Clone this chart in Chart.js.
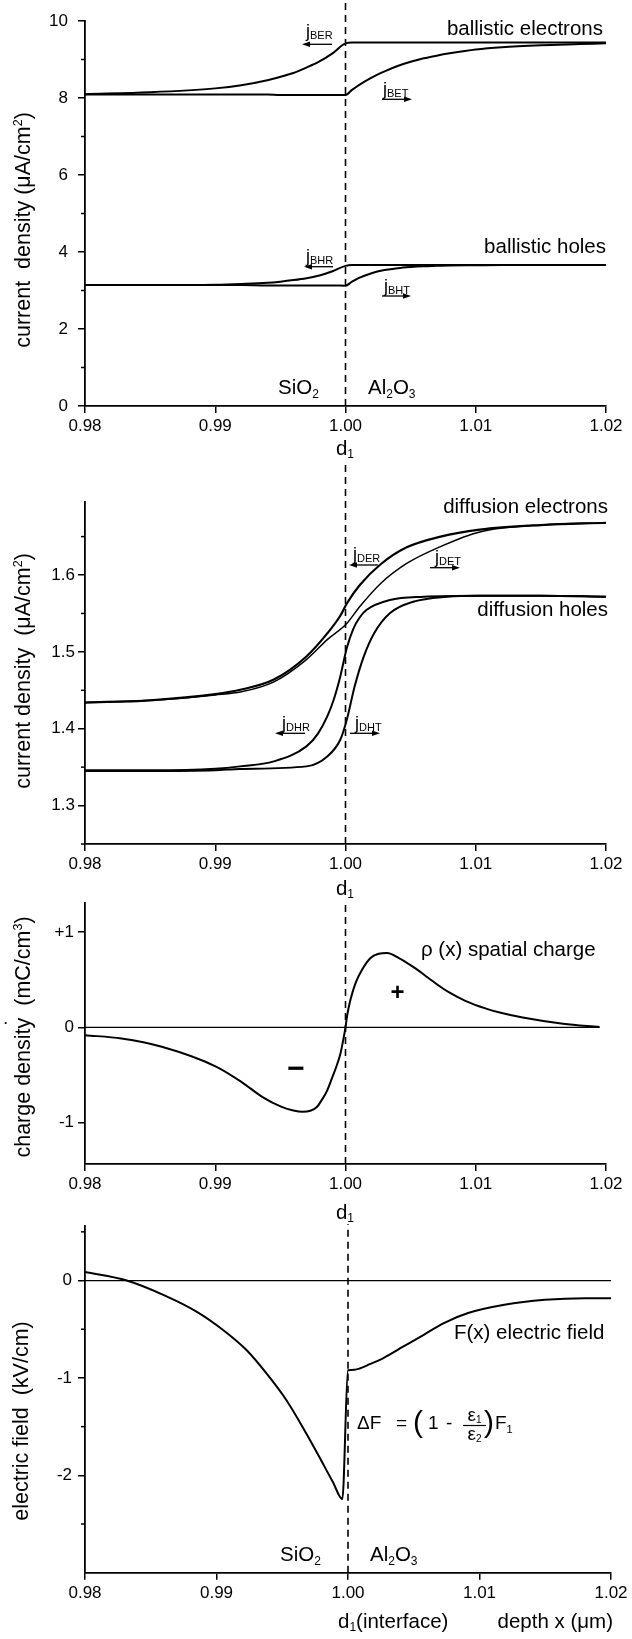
<!DOCTYPE html>
<html>
<head>
<meta charset="utf-8">
<script src="https://cdn.jsdelivr.net/npm/chart.js@4.4.1/dist/chart.umd.min.js"></script>
<style>
  html, body { margin: 0; padding: 0; background: #fff; }
  #page { position: relative; width: 632px; height: 1639px; overflow: hidden; background: #fff; }
  canvas { position: absolute; left: 0; }
</style>
</head>
<body>
<div id="page">
  <canvas id="ballistic" width="632" height="462" style="top:0px"></canvas>
  <canvas id="diffusion" width="632" height="440" style="top:462px"></canvas>
  <canvas id="charge" width="632" height="324" style="top:900px"></canvas>
  <canvas id="field" width="632" height="415" style="top:1224px"></canvas>
</div>
<script>
// depth axis, shared by all panels (µm)
const xTicks = [0.98, 0.99, 1.00, 1.01, 1.02];
const xTickLabels = ['0.98', '0.99', '1.00', '1.01', '1.02'];
const interfaceX = 1.0;

// panel 1 - ballistic currents (µA/cm²)
const ballX = [0.98, 0.985, 0.99, 0.992, 0.994, 0.995, 0.996, 0.997, 0.998, 0.999, 1.0,
  1.0005, 1.001, 1.002, 1.003, 1.004, 1.005, 1.006, 1.007, 1.008, 1.01, 1.012, 1.015, 1.018, 1.02];
const jBER = [8.10, 8.15, 8.25, 8.33, 8.46, 8.55, 8.65, 8.79, 8.95, 9.16, 9.42,
  9.44, 9.44, 9.44, 9.44, 9.44, 9.44, 9.44, 9.44, 9.44, 9.44, 9.44, 9.44, 9.44, 9.44];
const jBET = [8.09, 8.09, 8.09, 8.09, 8.09, 8.08, 8.08, 8.08, 8.08, 8.08, 8.08,
  8.21, 8.33, 8.53, 8.69, 8.83, 8.94, 9.03, 9.10, 9.16, 9.26, 9.32, 9.37, 9.40, 9.42];
const jBHR = [3.14, 3.14, 3.15, 3.17, 3.20, 3.23, 3.27, 3.32, 3.39, 3.50, 3.64,
  3.66, 3.66, 3.66, 3.66, 3.66, 3.66, 3.66, 3.66, 3.66, 3.66, 3.66, 3.66, 3.66, 3.66];
const jBHT = [3.14, 3.14, 3.14, 3.14, 3.13, 3.13, 3.13, 3.13, 3.13, 3.13, 3.125,
  3.23, 3.32, 3.45, 3.53, 3.58, 3.61, 3.63, 3.64, 3.65, 3.655, 3.66, 3.66, 3.66, 3.66];
const p1YTicks = [0, 2, 4, 6, 8, 10];
const p1YMinor = [1, 3, 5, 7, 9];

// panel 2 - diffusion currents (µA/cm²)
const derX = [0.98, 0.985, 0.99, 0.992, 0.9945, 0.997, 0.9986, 0.9996, 1.0001, 1.0011, 1.0027, 1.0047, 1.0073, 1.0103, 1.015, 1.02];
const jDER = [1.434, 1.437, 1.445, 1.451, 1.464, 1.494, 1.524, 1.547, 1.563, 1.587, 1.614, 1.636, 1.650, 1.659, 1.665, 1.668];
const detX = [0.98, 0.985, 0.99, 0.992, 0.9945, 0.997, 0.9986, 1.0001, 1.0011, 1.0027, 1.0047, 1.0073, 1.0103, 1.015, 1.02];
const jDET = [1.434, 1.437, 1.444, 1.448, 1.461, 1.490, 1.516, 1.537, 1.559, 1.589, 1.615, 1.637, 1.656, 1.665, 1.668];
const dhrX = [0.98, 0.985, 0.99, 0.9919, 0.9945, 0.997, 0.9979, 0.9986, 0.9991, 0.9996, 1.0001, 1.0006, 1.0011, 1.0016, 1.0034, 1.006, 1.0103, 1.015, 1.02];
const jDHR = [1.346, 1.346, 1.348, 1.351, 1.3575, 1.377, 1.394, 1.416, 1.438, 1.468, 1.505, 1.530, 1.545, 1.5545, 1.5675, 1.5718, 1.5731, 1.5731, 1.5718];
const dhtX = [0.98, 0.985, 0.99, 0.9919, 0.997, 0.9986, 0.9996, 1.0001, 1.0007, 1.0014, 1.0022, 1.0034, 1.0052, 1.0078, 1.0103, 1.015, 1.02];
const jDHT = [1.345, 1.345, 1.346, 1.3477, 1.351, 1.364, 1.3857, 1.4117, 1.455, 1.4939, 1.5243, 1.5503, 1.5653, 1.5718, 1.5731, 1.5731, 1.5718];
const p2YTicks = [1.3, 1.4, 1.5, 1.6];
const p2YMinor = [1.25, 1.35, 1.45, 1.55, 1.65];

// panel 3 - spatial charge density (mC/cm³)
const rhoX = [0.98, 0.9828, 0.9859, 0.9901, 0.992, 0.9936, 0.9951, 0.996, 0.9967, 0.9973, 0.9978, 0.99821, 0.9986,
  0.99897, 0.9993, 0.99962, 0.99987, 1.0, 1.00012, 1.00038, 1.00077, 1.00127, 1.00192, 1.00255, 1.00319,
  1.0041, 1.00537, 1.00665, 1.00793, 1.0092, 1.01074, 1.01176, 1.0136, 1.0167, 1.0195];
const rho = [-0.081, -0.116, -0.203, -0.413, -0.571, -0.728, -0.834, -0.872, -0.886, -0.875, -0.835, -0.755, -0.66,
  -0.53, -0.41, -0.27, -0.10, 0.0, 0.12, 0.29, 0.466, 0.606, 0.729, 0.774, 0.781,
  0.729, 0.62, 0.49, 0.37, 0.28, 0.20, 0.16, 0.105, 0.04, 0.005];
const p3YTicks = [-1, 0, 1];
const p3YLabels = ['-1', '0', '+1'];

// panel 4 - electric field (kV/cm)
const fieldX = [0.98, 0.98317, 0.98595, 0.98848, 0.9905, 0.99228, 0.9938, 0.99532, 0.99684, 0.9981, 0.99886, 0.99957,
  1.0, 1.0005, 1.00089, 1.00165, 1.00269, 1.00422, 1.00576, 1.00729, 1.00913, 1.01189, 1.01497, 1.01804, 1.02];
const field = [0.088, 0.0, -0.147, -0.319, -0.508, -0.714, -0.954, -1.229, -1.573, -1.882, -2.072, -2.243,
  -0.921, -0.915, -0.903, -0.859, -0.796, -0.677, -0.557, -0.437, -0.334, -0.249, -0.198, -0.181, -0.181];
const p4YTicks = [-2, -1, 0];
const p4YMinor = [-2.5, -1.5, -0.5, 0.5];

const FONT = "'Liberation Sans', Arial, sans-serif";
Chart.defaults.font.family = FONT;
Chart.defaults.color = '#000';

function curve(xs, ys, width) {
  return {
    data: xs.map((x, i) => ({ x: x, y: ys[i] })),
    borderColor: '#000', borderWidth: width || 2, pointRadius: 0,
    cubicInterpolationMode: 'monotone', fill: false
  };
}
function vline(x, y0, y1) {
  return { data: [{ x: x, y: y0 }, { x: x, y: y1 }], borderColor: '#000', borderWidth: 1.6,
    borderDash: [7, 5], pointRadius: 0, clip: false };
}
function hline(x0, x1, y) {
  return { data: [{ x: x0, y: y }, { x: x1, y: y }], borderColor: '#000', borderWidth: 1.3, pointRadius: 0 };
}

// text made of pieces (for sub/superscripts): [text, size, dy, weight]
function drawParts(ctx, x, y, parts, align) {
  let w = 0;
  parts.forEach(p => { ctx.font = (p[3] || 'normal') + ' ' + p[1] + 'px ' + FONT; w += ctx.measureText(p[0]).width; });
  let cx = align === 'right' ? x - w : align === 'center' ? x - w / 2 : x;
  parts.forEach(p => {
    ctx.font = (p[3] || 'normal') + ' ' + p[1] + 'px ' + FONT;
    ctx.fillText(p[0], cx, y + (p[2] || 0));
    cx += ctx.measureText(p[0]).width;
  });
}

function drawArrow(ctx, a) {
  const dir = Math.sign(a[1] - a[0]);
  ctx.lineWidth = 1.3;
  ctx.beginPath();
  ctx.moveTo(a[0], a[2]);
  ctx.lineTo(a[1] - dir * 4, a[2]);
  ctx.stroke();
  ctx.beginPath();
  ctx.moveTo(a[1], a[2]);
  ctx.lineTo(a[1] - dir * 8, a[2] - 2.8);
  ctx.lineTo(a[1] - dir * 8, a[2] + 2.8);
  ctx.closePath();
  ctx.fill();
}

function figurePlugin(p) {
  return {
    id: 'figure',
    afterDraw(chart) {
      const ctx = chart.ctx;
      ctx.save();
      ctx.translate(0, -p.offset);
      ctx.fillStyle = '#000';
      ctx.strokeStyle = '#000';
      ctx.textAlign = 'left';
      ctx.textBaseline = 'alphabetic';
      const ys = chart.scales.y;
      ctx.lineWidth = 1.5;
      (p.minor || []).forEach(v => {
        const py = ys.getPixelForValue(v) + p.offset;
        ctx.beginPath();
        ctx.moveTo(ys.right, py);
        ctx.lineTo(ys.right - 4, py);
        ctx.stroke();
      });
      p.texts.forEach(t => {
        if (t.rot) {
          ctx.save();
          ctx.translate(t.x, t.y);
          ctx.rotate(-Math.PI / 2);
          drawParts(ctx, 0, 0, t.parts, 'center');
          ctx.restore();
        } else {
          drawParts(ctx, t.x, t.y, t.parts, t.a || 'left');
        }
      });
      (p.arrows || []).forEach(a => drawArrow(ctx, a));
      (p.bars || []).forEach(b => {
        ctx.lineWidth = 1.2;
        ctx.beginPath();
        ctx.moveTo(b[0], b[2]);
        ctx.lineTo(b[1], b[2]);
        ctx.stroke();
      });
      ctx.restore();
    }
  };
}

function makePanel(id, p) {
  const canvas = document.getElementById(id);
  return new Chart(canvas, {
    type: 'line',
    data: { datasets: p.datasets },
    options: {
      responsive: false, animation: false, events: [],
      layout: { autoPadding: false, padding: { left: 0, right: p.right, top: p.top, bottom: 0 } },
      plugins: { legend: { display: false }, tooltip: { enabled: false } },
      scales: {
        x: {
          type: 'linear', min: 0.98, max: 1.02,
          afterBuildTicks: s => { s.ticks = xTicks.map(v => ({ value: v })); },
          afterFit: s => { s.height = p.xHeight; s.paddingLeft = 0; s.paddingRight = 0; },
          ticks: { callback: (v, i) => xTickLabels[i], font: { size: 17 }, color: '#000',
            padding: 3, maxRotation: 0, autoSkip: false },
          grid: { drawOnChartArea: false, tickLength: 7, color: '#000', lineWidth: 1.5 },
          border: { color: '#000', width: 1.8 }
        },
        y: {
          type: 'linear', min: p.yMin, max: p.yMax,
          afterBuildTicks: s => { s.ticks = p.yTicks.map(v => ({ value: v })); },
          afterFit: s => { s.width = 85; s.paddingTop = 0; s.paddingBottom = 0; },
          ticks: { callback: (v, i) => p.yLabels[i], font: { size: 17 }, color: '#000',
            padding: p.yPad, autoSkip: false },
          grid: { drawOnChartArea: false, tickLength: 7, color: '#000', lineWidth: 1.5 },
          border: { color: '#000', width: 1.8 }
        }
      }
    },
    plugins: [figurePlugin(p)]
  });
}

const A = 20.5, T = 21.5, J = 18, S = 11;

makePanel('ballistic', {
  offset: 0, top: 21, right: 26, xHeight: 56, yMin: 0, yMax: 10, yPad: 10,
  yTicks: p1YTicks, yLabels: p1YTicks.map(String), minor: p1YMinor,
  datasets: [curve(ballX, jBER), curve(ballX, jBET), curve(ballX, jBHR), curve(ballX, jBHT),
    vline(interfaceX, 0, 10.47)],
  texts: [
    { x: 603, y: 35, a: 'right', parts: [['ballistic electrons', A]] },
    { x: 606, y: 253, a: 'right', parts: [['ballistic holes', A]] },
    { x: 306, y: 37, parts: [['j', J], ['BER', S, 2]] },
    { x: 383, y: 94.5, parts: [['j', J], ['BET', S, 2]] },
    { x: 306, y: 262, parts: [['j', J], ['BHR', S, 2]] },
    { x: 384, y: 291.5, parts: [['j', J], ['BHT', S, 2]] },
    { x: 278, y: 393.5, parts: [['SiO', A], ['2', 12, 4]] },
    { x: 368, y: 393.5, parts: [['Al', A], ['2', 12, 4], ['O', A], ['3', 12, 4]] },
    { x: 345, y: 455, a: 'center', parts: [['d', A], ['1', 12, 3]] },
    { x: 30, y: 230, rot: true, parts: [['current  density (μA/cm', T], ['2', 12.5, -8], [')', T]] }
  ],
  arrows: [[332, 302, 44.3], [382, 412, 99.3], [333, 304, 266.7], [382, 411, 296]]
});

makePanel('diffusion', {
  offset: 462, top: 40, right: 26, xHeight: 58, yMin: 1.25, yMax: 1.695, yPad: 3,
  yTicks: p2YTicks, yLabels: p2YTicks.map(v => v.toFixed(1)), minor: p2YMinor,
  datasets: [curve(derX, jDER, 2.2), curve(detX, jDET, 1.5), curve(dhrX, jDHR), curve(dhtX, jDHT),
    vline(interfaceX, 1.25, 1.747)],
  texts: [
    { x: 608, y: 513.3, a: 'right', parts: [['diffusion electrons', A]] },
    { x: 608, y: 616, a: 'right', parts: [['diffusion holes', A]] },
    { x: 353, y: 560, parts: [['j', J], ['DER', S, 2]] },
    { x: 435, y: 563, parts: [['j', J], ['DET', S, 2]] },
    { x: 282, y: 728.5, parts: [['j', J], ['DHR', S, 2]] },
    { x: 355, y: 728.5, parts: [['j', J], ['DHT', S, 2]] },
    { x: 345, y: 895, a: 'center', parts: [['d', A], ['1', 12, 3]] },
    { x: 30, y: 671, rot: true, parts: [['current density  (μA/cm', T], ['2', 12.5, -8], [')', T]] }
  ],
  arrows: [[378, 349, 565], [430, 460, 567.7], [305, 275, 733.3], [350, 380, 733.3]]
});

makePanel('charge', {
  offset: 900, top: 3, right: 26, xHeight: 60, yMin: -1.434, yMax: 1.307, yPad: 4,
  yTicks: p3YTicks, yLabels: p3YLabels,
  datasets: [hline(0.98, 1.0195, 0), curve(rhoX, rho), vline(interfaceX, -1.434, 1.307)],
  texts: [
    { x: 421, y: 956, parts: [['ρ (x) spatial charge', A]] },
    { x: 397.5, y: 1000, a: 'center', parts: [['+', 24, 0, 'bold']] },
    { x: 296, y: 1078, a: 'center', parts: [['−', 30, 0, 'bold']] },
    { x: 4, y: 1024, parts: [['.', 12, 0, 'bold']] },
    { x: 345, y: 1219, a: 'center', parts: [['d', A], ['1', 12, 3]] },
    { x: 30, y: 1037, rot: true, parts: [['charge density  (mC/cm', T], ['3', 12.5, -8], [')', T]] }
  ]
});

makePanel('field', {
  offset: 1224, top: 2, right: 21, xHeight: 66.3, yMin: -3, yMax: 0.56, yPad: 6,
  yTicks: p4YTicks, yLabels: p4YTicks.map(String), minor: p4YMinor,
  datasets: [hline(0.98, 1.02, 0), curve(fieldX, field), vline(interfaceX, -3, 0.58)],
  texts: [
    { x: 454, y: 1338.5, parts: [['F(x) electric field', A]] },
    { x: 357, y: 1428.5, parts: [['ΔF', 19]] },
    { x: 396, y: 1428.5, parts: [['=', 19]] },
    { x: 413, y: 1432, parts: [['(', 30]] },
    { x: 428, y: 1428.5, parts: [['1', 19]] },
    { x: 446, y: 1428.5, parts: [['-', 19]] },
    { x: 474.5, y: 1421, a: 'center', parts: [['ε', 19], ['1', 10, 2]] },
    { x: 474.5, y: 1440, a: 'center', parts: [['ε', 19], ['2', 10, 2]] },
    { x: 484, y: 1432, parts: [[')', 30]] },
    { x: 495, y: 1428.5, parts: [['F', 19], ['1', 11, 4]] },
    { x: 280, y: 1560.5, parts: [['SiO', A], ['2', 12, 4]] },
    { x: 370, y: 1560.5, parts: [['Al', A], ['2', 12, 4], ['O', A], ['3', 12, 4]] },
    { x: 338, y: 1628, parts: [['d', A], ['1', 12, 3], ['(interface)', A]] },
    { x: 613, y: 1628, a: 'right', parts: [['depth x (μm)', A]] },
    { x: 28, y: 1421, rot: true, parts: [['electric field  (kV/cm)', T]] }
  ],
  bars: [[463, 486, 1425.5]]
});
</script>
</body>
</html>
